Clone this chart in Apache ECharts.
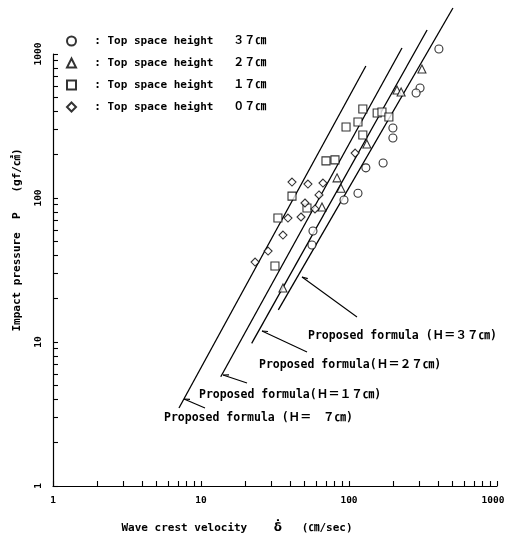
<!DOCTYPE html>
<html>
<head>
<meta charset="utf-8">
<script src="https://cdn.jsdelivr.net/npm/echarts@6/dist/echarts.min.js"></script>
<style>html,body{margin:0;padding:0;background:#fff;}#c{width:505px;height:535px;}</style>
</head>
<body>
<div id="c"></div>
<script>
// ---- data (x: wave crest velocity cm/sec, y: impact pressure gf/cm2) ----
const seriesNames = ['Top space height   ３７㎝', 'Top space height   ２７㎝', 'Top space height   １７㎝', 'Top space height   ０７㎝'];
const h37Points = [[405,1084],[302,581],[284,536],[198,306],[198,261],[170,175],[130,162],[115,108],[92.5,96.9],[57.1,59.0],[56.2,47.2]];
const h27Points = [[311,787],[211,562],[225,545],[132,237],[83,138],[88.3,117],[65.7,86.6],[35.8,23.7]];
const h17Points = [[124,415],[115,337],[95.5,311],[155,389],[167,396],[186,365],[124,274],[80.4,184],[69.9,181],[41.2,103],[33.1,72.6],[52.0,85.3],[31.6,33.7]];
const h7Points = [[41.2,129],[52.8,125],[66.7,127],[62.7,105],[50.4,92.3],[58.9,83.9],[47.4,73.8],[38.7,72.6],[35.8,55.3],[28.4,42.8],[23.2,35.9],[110,205]];
const formulaH7 = [[7.1,3.48],[130,826]];
const formulaH17 = [[13.6,5.74],[228,1101]];
const formulaH27 = [[22.0,9.79],[337,1468]];
const formulaH37 = [[33.3,16.7],[504,2086]];
const tickValues = [1,2,3,4,5,6,7,8,9,10,20,30,40,50,60,70,80,90,100,200,300,400,500,600,700,800,900,1000];
const labelValues = [1,10,100,1000];
const formulaLabels = ['Proposed formula (Ｈ＝３７㎝)', 'Proposed formula(Ｈ＝２７㎝)', 'Proposed formula(Ｈ＝１７㎝)', 'Proposed formula (Ｈ＝　７㎝)'];

const FONT = '"DejaVu Sans Mono", "Noto Sans CJK JP", monospace';
const chart = echarts.init(document.getElementById('c'), null, {renderer: 'canvas'});

function arrow(x1, y1, x2, y2) {
  const a = Math.atan2(y2 - y1, x2 - x1);
  const s = 6, w = 0.35;
  const p1 = [x2 - s * Math.cos(a - w), y2 - s * Math.sin(a - w)];
  return [
    {type: 'line', shape: {x1, y1, x2, y2}, style: {stroke: '#000', lineWidth: 1.1}},
    {type: 'line', shape: {x1: p1[0], y1: p1[1], x2, y2}, style: {stroke: '#000', lineWidth: 1.1}}
  ];
}
const annText = (x, y, t) => ({type: 'text', x, y, style: {text: t, font: 'bold 11.5px ' + FONT, fill: '#000', verticalAlign: 'middle', align: 'left'}});

const scatterStyle = {color: '#fff', borderColor: '#000', borderWidth: 1.1};
const lineSeries = (d) => ({type: 'line', data: d, symbol: 'none', clip: false, silent: true, z: 1,
  lineStyle: {color: '#000', width: 1.3}, itemStyle: {color: '#000'}});

chart.setOption({
  backgroundColor: '#fff',
  animation: false,
  grid: {left: 53, right: 8, top: 54, bottom: 49, containLabel: false, outerBoundsMode: 'none'},
  legend: {
    data: seriesNames, orient: 'vertical', left: 61, top: 29,
    itemWidth: 9, itemHeight: 9, itemGap: 8,
    formatter: n => '  : ' + n,
    textStyle: {fontFamily: FONT, fontSize: 11, fontWeight: 'bold', color: '#000', lineHeight: 14}
  },
  xAxis: {
    type: 'log', logBase: 10, min: 1, max: 1000,
    name: 'Wave crest velocity    {d|δ̇}   (㎝/sec)', nameLocation: 'middle', nameGap: 36,
    nameTextStyle: {fontFamily: FONT, fontSize: 11, fontWeight: 'bold', color: '#000', padding: [0, 76, 0, 0],
      rich: {d: {fontFamily: '"DejaVu Sans"', fontSize: 12, fontWeight: 'bold', color: '#000'}}},
    axisLine: {lineStyle: {color: '#000', width: 1.2}},
    axisTick: {inside: true, length: 5, customValues: tickValues, lineStyle: {color: '#000', width: 1.1}},
    minorTick: {show: false},
    axisLabel: {customValues: labelValues,
      formatter: v => Math.round(v) === 1000 ? '{r|1000}' : String(Math.round(v)),
      rich: {r: {fontFamily: FONT, fontSize: 9.5, fontWeight: 'bold', color: '#000', padding: [0, 8, 0, 0]}},
      fontFamily: FONT, fontSize: 9.5, fontWeight: 'bold', color: '#000', margin: 10},
    splitLine: {show: false}
  },
  yAxis: {
    type: 'log', logBase: 10, min: 1, max: 1000,
    name: 'Impact pressure  P   (gf/㎠)', nameLocation: 'middle', nameGap: 30, nameRotate: 90,
    nameTextStyle: {fontFamily: FONT, fontSize: 11, fontWeight: 'bold', color: '#000', padding: [0, 0, 0, 60]},
    axisLine: {show: true, lineStyle: {color: '#000', width: 1.2}},
    axisTick: {show: true, inside: true, length: 5, customValues: tickValues, lineStyle: {color: '#000', width: 1.1}},
    axisLabel: {customValues: labelValues, rotate: 90, formatter: v => String(Math.round(v)), fontFamily: FONT, fontSize: 9.5, fontWeight: 'bold', color: '#000', margin: 10},
    splitLine: {show: false}
  },
  series: [
    {name: seriesNames[0], type: 'scatter', data: h37Points, symbol: 'circle', symbolSize: 8, itemStyle: scatterStyle, clip: false, z: 3},
    {name: seriesNames[1], type: 'scatter', data: h27Points, symbol: 'triangle', symbolSize: 8, itemStyle: scatterStyle, clip: false, z: 3},
    {name: seriesNames[2], type: 'scatter', data: h17Points, symbol: 'rect', symbolSize: 8, itemStyle: scatterStyle, clip: false, z: 3},
    {name: seriesNames[3], type: 'scatter', data: h7Points, symbol: 'diamond', symbolSize: 8, itemStyle: scatterStyle, clip: false, z: 3},
    lineSeries(formulaH37), lineSeries(formulaH27), lineSeries(formulaH17), lineSeries(formulaH7)
  ],
  graphic: [
    ...arrow(357, 317, 302, 277), annText(308, 336, formulaLabels[0]),
    ...arrow(307, 352, 262, 331), annText(259, 365, formulaLabels[1]),
    ...arrow(247, 383, 223, 375), annText(199, 395, formulaLabels[2]),
    ...arrow(205, 408, 184, 399), annText(164, 418, formulaLabels[3])
  ]
});
</script>
</body>
</html>
